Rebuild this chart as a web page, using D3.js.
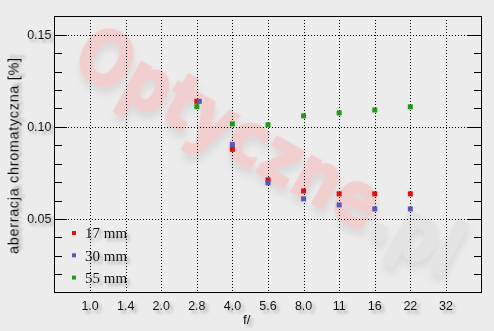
<!DOCTYPE html>
<html>
<head>
<meta charset="utf-8">
<script src="https://cdn.jsdelivr.net/npm/d3@7"></script>
<style>
  html, body { margin: 0; padding: 0; background: #ececec; }
  svg { display: block; }
</style>
</head>
<body>
<div id="chart"></div>
<script>
// f-stop categories along the x axis
const apertures = ["1.0", "1.4", "2.0", "2.8", "4.0", "5.6", "8.0", "11", "16", "22", "32"];
const yTicksMajor = [0.05, 0.10, 0.15];

// each point: [stop index, value]
const s17 = [[3, 0.1139], [4, 0.0878], [5, 0.0712], [6, 0.0652], [7, 0.0636], [8, 0.0636], [9, 0.0636]];
const s30 = [[3.07, 0.1139], [4, 0.0904], [5, 0.0696], [6, 0.0609], [7, 0.0576], [8, 0.0554], [9, 0.0554]];
const s55 = [[3, 0.1110], [4, 0.1016], [5, 0.1011], [6, 0.1060], [7, 0.1076], [8, 0.1092], [9, 0.1109]];

const series = [
    { name: "17 mm", color: "#e01010", data: s17 },
    { name: "30 mm", color: "#5858b8", data: s30 },
    { name: "55 mm", color: "#22991a", data: s55 }
];

const W = 494, H = 331;
const pL = 54.5, pR = 481.5, pT = 16.5, pB = 292.5;

const svg = d3.select("#chart").append("svg")
    .attr("width", W)
    .attr("height", H);

const defs = svg.append("defs");
const shadow = defs.append("filter").attr("id", "shadow")
    .attr("x", "-20%").attr("y", "-40%").attr("width", "160%").attr("height", "200%");
shadow.append("feDropShadow")
    .attr("dx", 3).attr("dy", 3).attr("stdDeviation", 1.8)
    .attr("flood-color", "#777").attr("flood-opacity", 0.6);

const wmShadow = defs.append("filter").attr("id", "wmshadow")
    .attr("x", "-10%").attr("y", "-10%").attr("width", "130%").attr("height", "130%");
wmShadow.append("feDropShadow")
    .attr("dx", 4).attr("dy", 6).attr("stdDeviation", 3.5)
    .attr("flood-color", "#999").attr("flood-opacity", 0.22);

svg.append("rect").attr("width", W).attr("height", H).attr("fill", "#ececec");

const x = d3.scaleLinear().domain([-1, 11]).range([pL, pR]);
const y = d3.scaleLinear().domain([0.01, 0.16]).range([pB, pT]);

// watermark
const wm = svg.append("text")
    .attr("transform", "translate(270,150) rotate(29)")
    .attr("text-anchor", "middle")
    .attr("dy", "0.35em")
    .attr("font-family", "DejaVu Sans")
    .attr("font-weight", "bold")
    .attr("font-size", 74)
    .attr("stroke-width", 2.5)
    .attr("stroke-linejoin", "round")
    .attr("textLength", 430)
    .attr("lengthAdjust", "spacingAndGlyphs")
    .attr("filter", "url(#wmshadow)");
wm.append("tspan").attr("fill", "#f2cfcf").attr("stroke", "#f2cfcf").text("Optyczne");
wm.append("tspan").attr("fill", "#e3e3e3").attr("stroke", "#e3e3e3").text(".pl");

// grid
const grid = svg.append("g")
    .attr("stroke", "#000")
    .attr("stroke-width", 1)
    .attr("stroke-dasharray", "1,2")
    .attr("shape-rendering", "crispEdges");

grid.selectAll(".vgrid")
    .data(apertures)
    .enter().append("line")
    .attr("x1", (d, i) => Math.round(x(i)) + 0.5)
    .attr("x2", (d, i) => Math.round(x(i)) + 0.5)
    .attr("y1", pT + 3)
    .attr("y2", pB);

grid.selectAll(".hgrid")
    .data(yTicksMajor)
    .enter().append("line")
    .attr("x1", pL + 13)
    .attr("x2", pR - 15)
    .attr("y1", d => Math.round(y(d)) + 0.5)
    .attr("y2", d => Math.round(y(d)) + 0.5);

// frame
svg.append("rect")
    .attr("x", pL).attr("y", pT)
    .attr("width", pR - pL).attr("height", pB - pT)
    .attr("fill", "none").attr("stroke", "#000")
    .attr("shape-rendering", "crispEdges");

// inner ticks on left and right
const minor = d3.range(0.02, 0.1501, 0.01);
const tickG = svg.append("g").attr("stroke", "#000").attr("shape-rendering", "crispEdges");
minor.forEach(v => {
    const isMajor = yTicksMajor.some(m => Math.abs(m - v) < 1e-6);
    const yy = Math.round(y(v)) + 0.5;
    tickG.append("line").attr("x1", pL).attr("x2", pL + (isMajor ? 12 : 7)).attr("y1", yy).attr("y2", yy);
    tickG.append("line").attr("x1", pR).attr("x2", pR - (isMajor ? 15 : 8)).attr("y1", yy).attr("y2", yy);
});

// y tick labels
svg.append("g")
    .selectAll("text")
    .data(yTicksMajor)
    .enter().append("text")
    .attr("x", pL - 3)
    .attr("y", d => y(d))
    .attr("dy", "0.35em")
    .attr("text-anchor", "end")
    .attr("font-family", "Liberation Sans, Arial, sans-serif")
    .attr("font-size", 12.5)
    .attr("fill", "#111")
    .attr("filter", "url(#shadow)")
    .text(d => d.toFixed(2));

// x tick labels
svg.append("g")
    .selectAll("text")
    .data(apertures)
    .enter().append("text")
    .attr("x", (d, i) => x(i))
    .attr("y", 310)
    .attr("text-anchor", "middle")
    .attr("font-family", "Liberation Sans, Arial, sans-serif")
    .attr("font-size", 12.5)
    .attr("fill", "#111")
    .attr("filter", "url(#shadow)")
    .text(d => d);

// axis titles
svg.append("text")
    .attr("x", 243).attr("y", 324)
    .attr("font-family", "Liberation Sans, Arial, sans-serif")
    .attr("font-size", 13.5)
    .attr("fill", "#111")
    .attr("filter", "url(#shadow)")
    .text("f/");

svg.append("text")
    .attr("transform", "translate(18.5,156) rotate(-90)")
    .attr("text-anchor", "middle")
    .attr("font-family", "Liberation Sans, Arial, sans-serif")
    .attr("font-size", 14.5)
    .attr("textLength", 196)
    .attr("lengthAdjust", "spacing")
    .attr("fill", "#111")
    .attr("filter", "url(#shadow)")
    .text("aberracja chromatyczna [%]");

// points
const sq = 5;
series.forEach(s => {
    svg.append("g")
        .selectAll("rect")
        .data(s.data)
        .enter().append("rect")
        .attr("x", d => x(d[0]) - sq / 2)
        .attr("y", d => y(d[1]) - sq / 2)
        .attr("width", sq)
        .attr("height", sq)
        .attr("fill", s.color);
});

// legend
const legend = svg.append("g").attr("transform", "translate(72,233)");
series.forEach((s, i) => {
    const row = legend.append("g").attr("transform", `translate(0,${i * 22.3})`);
    row.append("rect")
        .attr("x", 0).attr("y", -2)
        .attr("width", 4).attr("height", 4)
        .attr("fill", s.color);
    row.append("text")
        .attr("x", 13).attr("y", 0)
        .attr("dy", "0.35em")
        .attr("font-family", "Liberation Serif, Times New Roman, serif")
        .attr("font-size", 15)
        .attr("fill", "#111")
        .attr("filter", "url(#shadow)")
        .text(s.name);
});
</script>
</body>
</html>
